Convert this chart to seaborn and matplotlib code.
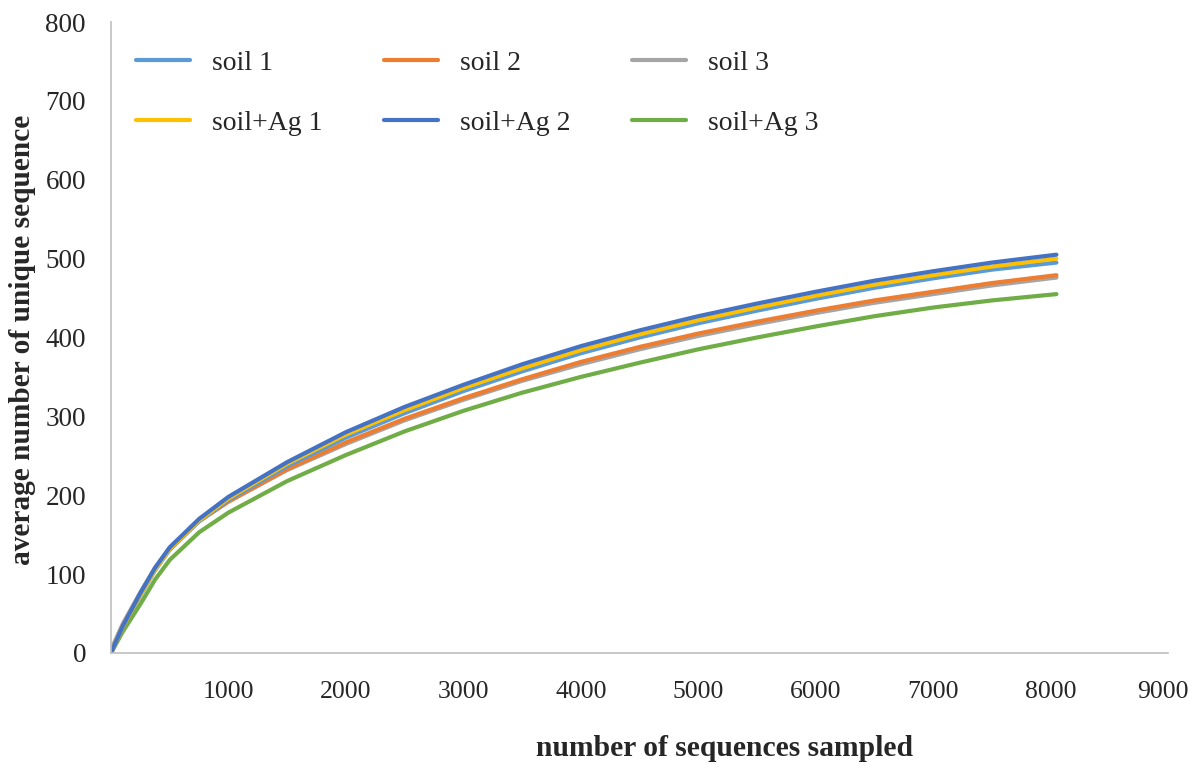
import numpy as np
import pandas as pd
import matplotlib
matplotlib.use("Agg")
import matplotlib.pyplot as plt
import matplotlib.transforms as mtransforms
import seaborn as sns

# number of sequences sampled
depth = [0, 100, 250, 375, 500, 750, 1000, 1500, 2000, 2500, 3000, 3500, 4000,
         4500, 5000, 5500, 6000, 6500, 7000, 7500, 8050]

soil_1 = [0, 33, 73, 105, 131, 167, 194, 237, 273, 304, 332, 357, 380, 400, 418, 434, 449, 463, 475, 486, 495]
soil_2 = [0, 34, 75, 106, 132, 167, 192, 233, 267, 297, 323, 347, 369, 388, 405, 420, 434, 447, 458, 469, 479]
soil_3 = [4, 37, 77, 108, 133, 168, 192, 232, 265, 295, 321, 345, 366, 385, 402, 417, 431, 444, 455, 466, 476]
soil_ag_1 = [0, 33, 74, 106, 132, 168, 196, 240, 277, 308, 336, 361, 384, 404, 422, 438, 453, 467, 479, 490, 500]
soil_ag_2 = [0, 34, 76, 108, 134, 170, 198, 242, 280, 312, 340, 366, 389, 409, 427, 443, 458, 472, 484, 495, 505]
soil_ag_3 = [0, 27, 62, 93, 118, 153, 178, 218, 251, 281, 307, 330, 350, 368, 385, 400, 414, 427, 438, 447, 455]

labels = ["soil 1", "soil+Ag 1", "soil 2", "soil+Ag 2", "soil 3", "soil+Ag 3"]
series = [soil_1, soil_ag_1, soil_2, soil_ag_2, soil_3, soil_ag_3]
colors = ["#5B9BD5", "#FFC000", "#ED7D31", "#4472C4", "#A5A5A5", "#70AD47"]

x_ticks = [1000, 2000, 3000, 4000, 5000, 6000, 7000, 8000, 9000]
y_ticks = [0, 100, 200, 300, 400, 500, 600, 700, 800]

df = pd.concat([pd.DataFrame({"depth": depth, "value": s, "sample": lab})
                for lab, s in zip(labels, series)], ignore_index=True)

sns.set_style("white")
plt.rcParams["font.family"] = ["Liberation Serif", "DejaVu Serif"]

fig = plt.figure(figsize=(11.91, 7.65), dpi=100)
ax = fig.add_axes([111 / 1191, 1 - 653 / 765, (1168 - 111) / 1191, (653 - 22) / 765])

draw_order = ["soil+Ag 3", "soil 3", "soil 2", "soil 1", "soil+Ag 1", "soil+Ag 2"]
palette = dict(zip(labels, colors))
for lab in draw_order:
    sns.lineplot(data=df[df["sample"] == lab], x="depth", y="value", color=palette[lab],
                 lw=3, ax=ax, label=lab, legend=False)

ax.set_xlim(0, 9000)
ax.set_ylim(0, 800)
ax.set_xticks([0] + x_ticks)
ax.set_xticklabels([""] + [str(t) for t in x_ticks])
ax.set_yticks(y_ticks)
ax.set_yticklabels([str(t) for t in y_ticks])

for s in ["top", "right"]:
    ax.spines[s].set_visible(False)
for s in ["left", "bottom"]:
    ax.spines[s].set_color("#BFBFBF")
    ax.spines[s].set_linewidth(1.2)

ax.tick_params(axis="x", direction="out", length=8, width=1.2, color="#BFBFBF",
               labelsize=18.5, pad=12)
ax.tick_params(axis="y", length=0, labelsize=19.5, pad=18)
ax.set_xlabel("")
ax.set_ylabel("")

# nudge the last x tick label so it stays inside the canvas
last = ax.get_xticklabels()[-1]
last.set_transform(last.get_transform() +
                   mtransforms.ScaledTranslation(-5 / 100, 0, fig.dpi_scale_trans))

xl = fig.text(725 / 1191, 1 - 748 / 765, "number of sequences sampled", fontsize=20,
              fontweight="bold", ha="center", va="center")
yl = fig.text(23 / 1191, 1 - 340 / 765, "average number of unique sequence", fontsize=20,
              fontweight="bold", ha="center", va="center", rotation=90)

# fit label sizes to the reference extents
fig.canvas.draw()
r = fig.canvas.get_renderer()
wx = xl.get_window_extent(r).width
xl.set_fontsize(20 * 378 / wx)
hy = yl.get_window_extent(r).height
yl.set_fontsize(20 * 450 / hy)

handles = {l.get_label(): l for l in ax.get_lines()}
ax.legend([handles[l] for l in labels], labels, ncol=3, frameon=False, loc="upper left",
          bbox_to_anchor=(0.0, 0.995), fontsize=20, handlelength=1.95, handletextpad=0.8,
          columnspacing=2.2, labelspacing=1.25)

fig.savefig("out.png", dpi=100)
